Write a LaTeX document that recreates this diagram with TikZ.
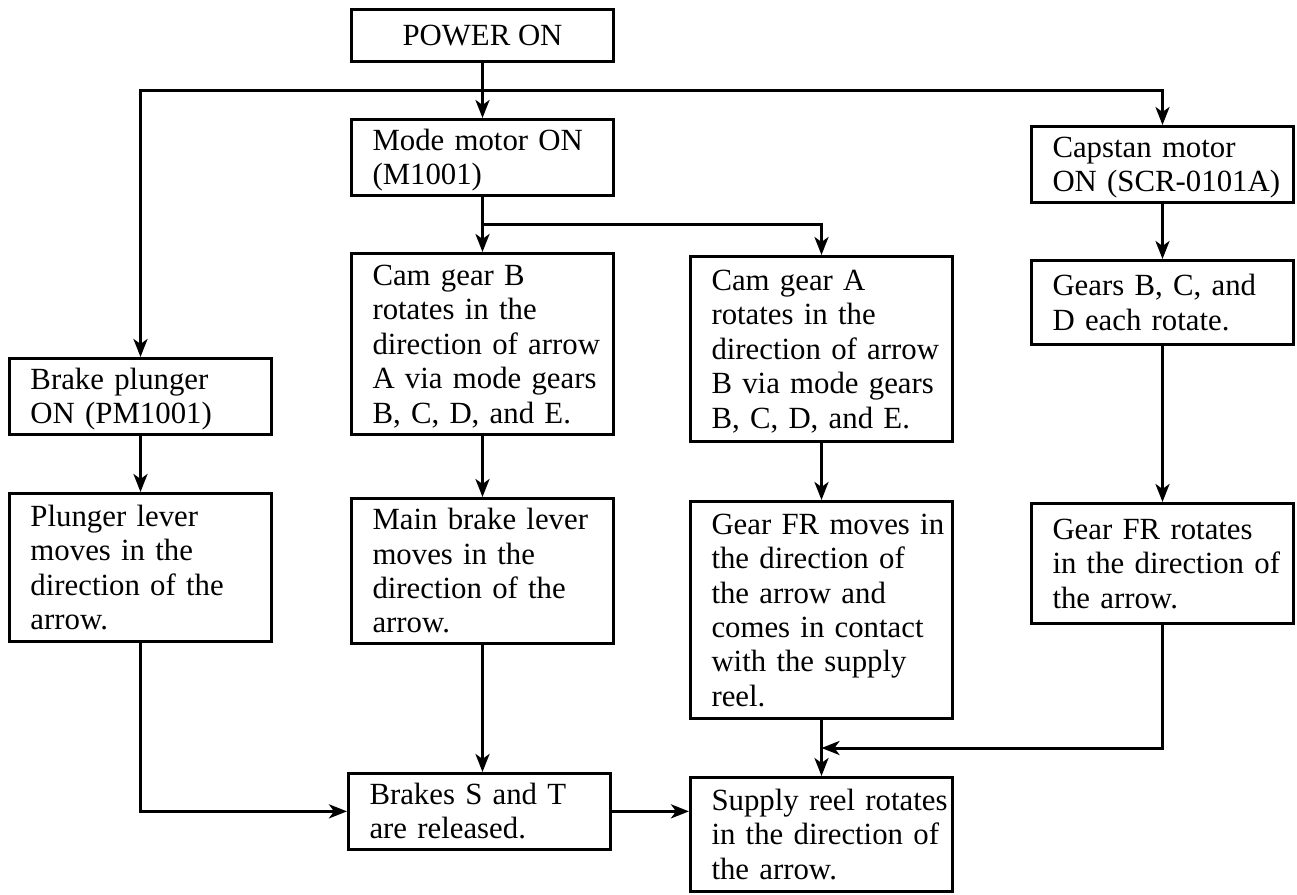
\documentclass[tikz,border=0pt]{standalone}
\usepackage{fontspec}
\setmainfont{Liberation Serif}
\usepackage{tikz}
\usetikzlibrary{positioning,arrows.meta,calc}

\newcommand{\boxlines}[1]{\begin{tabular}{@{}l@{}}\rule{0pt}{15.5pt}#1\end{tabular}}

\begin{document}
\begin{tikzpicture}[
    x=0.5pt, y=-0.5pt,
    ->, >={Stealth[length=9pt,width=7pt,inset=2.5pt]},
    line width=1.5pt,
    every node/.style={font=\fontsize{15.4}{17.2}\selectfont},
    stage/.style={rectangle, draw, anchor=north west, align=left, text width=110pt, inner xsep=10.5pt, inner ysep=0pt}
]
\useasboundingbox (0,0) rectangle (1297,895);

\node[draw, anchor=north west, minimum width=131pt, minimum height=26pt, inner sep=0pt] (power) at (350,8) {POWER ON};

\node[stage, minimum height=37pt] (mode) at (350,118) {\boxlines{Mode motor ON\\(M1001)}};
\node[stage, minimum height=90.5pt] (camB) at (350,252) {\boxlines{Cam gear B\\rotates in the\\direction of arrow\\A via mode gears\\B, C, D, and E.}};
\node[stage, minimum height=72.5pt] (mainBrake) at (350,497) {\boxlines{Main brake lever\\moves in the\\direction of the\\arrow.}};
\node[stage, minimum height=37.5pt] (brakes) at (347,772) {\boxlines{Brakes S and T\\are released.}};

\node[stage, minimum height=37.5pt] (plunger) at (8,357) {\boxlines{Brake plunger\\ON (PM1001)}};
\node[stage, minimum height=74pt] (lever) at (8,492) {\boxlines{Plunger lever\\moves in the\\direction of the\\arrow.}};

\node[stage, minimum height=92.5pt] (camA) at (689,255) {\boxlines{Cam gear A\\rotates in the\\direction of arrow\\B via mode gears\\B, C, D, and E.}};
\node[stage, minimum height=108.5pt] (gearMove) at (689,500) {\boxlines{Gear FR moves in\\the direction of\\the arrow and\\comes in contact\\with the supply\\reel.}};
\node[stage, minimum height=57pt] (supply) at (689,776) {\boxlines{Supply reel rotates\\in the direction of\\the arrow.}};

\node[stage, minimum height=37pt] (capstan) at (1030,125) {\boxlines{Capstan motor\\ON (SCR-0101A)}};
\node[stage, minimum height=42pt] (gears) at (1030,259) {\boxlines{Gears B, C, and\\D each rotate.}};
\node[stage, minimum height=60pt] (gearRot) at (1030,502) {\boxlines{Gear FR rotates\\in the direction of\\the arrow.}};

\coordinate (fork1) at ($(power.south)!0.5!(mode.north)$);
\coordinate (fork2) at ($(mode.south)!0.5!(camB.north)$);
\coordinate (join) at ($(gearMove.south)!0.5!(supply.north)$);

\draw (power.south) -- (mode.north);
\draw (fork1) -| (plunger.north);
\draw (fork1) -| (capstan.north);

\draw (mode.south) -- (camB.north);
\draw (fork2) -| (camA.north);

\draw (plunger) -- (lever);
\draw (camB) -- (mainBrake);
\draw (mainBrake.south) -- (mainBrake.south |- brakes.north);
\draw (camA) -- (gearMove);
\draw (gearMove) -- (supply);
\draw (capstan) -- (gears);
\draw (gears) -- (gearRot);

\draw (gearRot.south) |- (join);
\draw (lever.south) |- (brakes.west);
\draw (brakes.east) -- (brakes.east -| supply.west);

\end{tikzpicture}
\end{document}
